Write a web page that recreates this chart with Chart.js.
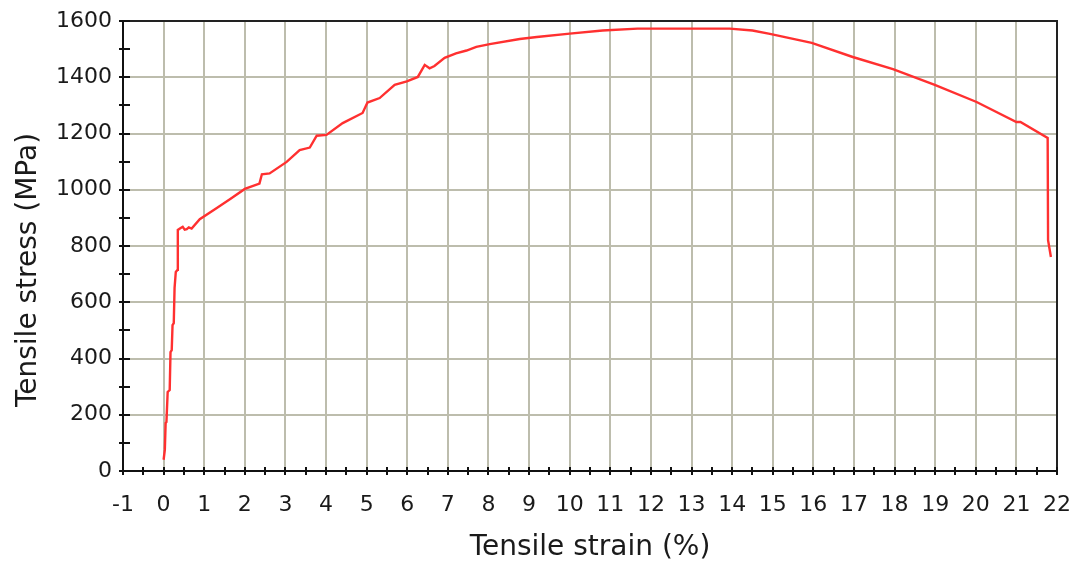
<!DOCTYPE html>
<html>
<head>
<meta charset="utf-8">
<script src="https://cdn.jsdelivr.net/npm/chart.js@4/dist/chart.umd.min.js"></script>
<style>
  html, body { margin: 0; padding: 0; background: #fff; }
  #wrap { width: 1076px; height: 566px; }
</style>
</head>
<body>
<div id="wrap"><canvas id="c" width="1076" height="566"></canvas></div>
<script>
// tensile test curve
const strain = [0, 0.03, 0.05, 0.07, 0.10, 0.15, 0.17, 0.20, 0.22, 0.25, 0.27, 0.30, 0.34, 0.35,
  0.42, 0.47, 0.52, 0.57, 0.62, 0.69, 0.89, 1.31, 1.65, 2.0, 2.36, 2.42, 2.61, 3.03, 3.35, 3.6, 3.77,
  4.01, 4.41, 4.9, 5.02, 5.32, 5.69, 5.99, 6.26, 6.43, 6.55, 6.67, 6.92, 7.2, 7.46, 7.7, 8.03, 8.77, 9.19,
  10.0, 10.81, 11.67, 13.94, 14.5, 14.93, 15.96, 16.97, 17.96, 18.99, 20.02, 21.0, 21.1, 21.77,
  21.78, 21.85];
const stress = [40, 75, 171, 174, 281, 288, 423, 430, 519, 526, 651, 708, 715, 857,
  864, 868, 858, 860, 866, 862, 895, 935, 968, 1003, 1022, 1055, 1058, 1099, 1141, 1150, 1192,
  1195, 1237, 1273, 1310, 1326, 1373, 1385, 1401, 1444, 1432, 1440, 1469, 1485, 1495, 1508, 1518, 1536, 1543,
  1555, 1566, 1573, 1573, 1566, 1554, 1522, 1472, 1429, 1373, 1312, 1241, 1241, 1184,
  821, 761];

const xMin = -1, xMax = 22, xStep = 1;
const yMin = 0, yMax = 1600, yStep = 200;
const xMinorStep = 0.5, yMinorStep = 100;

const FONT = 'DejaVu Sans, Verdana, sans-serif';
const GRID = '#bdbdad';
const TEXT = '#1a1a1a';

// ticks crossing the axes, plus top/right frame and the y title
const axisExtras = {
  id: 'axisExtras',
  afterDraw(chart) {
    const { ctx, chartArea: a, scales: { x, y } } = chart;
    ctx.save();
    ctx.strokeStyle = '#222';
    ctx.lineWidth = 2;
    ctx.beginPath();
    ctx.moveTo(a.left, a.top); ctx.lineTo(a.right, a.top); ctx.lineTo(a.right, a.bottom);
    ctx.stroke();

    ctx.strokeStyle = '#111';
    ctx.lineWidth = 2;
    ctx.beginPath();
    for (let v = xMin; v <= xMax + 1e-9; v += xMinorStep) {
      const px = Math.round(x.getPixelForValue(v));
      ctx.moveTo(px, a.bottom - 4); ctx.lineTo(px, a.bottom + 4);
    }
    for (let v = yMin; v <= yMax + 1e-9; v += yMinorStep) {
      const py = Math.round(y.getPixelForValue(v));
      ctx.moveTo(a.left - 4, py); ctx.lineTo(a.left + 7, py);
    }
    ctx.stroke();

    ctx.fillStyle = TEXT;
    ctx.font = '28px ' + FONT;
    ctx.textAlign = 'center';
    ctx.textBaseline = 'middle';
    ctx.translate(29, 270);
    ctx.rotate(-Math.PI / 2);
    ctx.fillText('Tensile stress (MPa)', 0, 0);
    ctx.restore();
  }
};

new Chart(document.getElementById('c'), {
  type: 'scatter',
  data: {
    datasets: [{
      data: strain.map((s, i) => ({ x: s, y: stress[i] })),
      showLine: true,
      borderColor: '#ff3030',
      borderWidth: 2.4,
      pointRadius: 0,
      tension: 0,
    }],
  },
  options: {
    responsive: false,
    animation: false,
    layout: { padding: { top: 21, right: 19, left: 0, bottom: 0 } },
    plugins: { legend: { display: false }, tooltip: { enabled: false } },
    scales: {
      x: {
        type: 'linear', min: xMin, max: xMax,
        afterFit(s) { s.height = 95; s.paddingLeft = 0; s.paddingRight = 0; },
        ticks: { stepSize: xStep, color: TEXT, font: { family: FONT, size: 22 }, padding: 21 },
        grid: {
          drawTicks: false, lineWidth: 2,
          color: c => (c.tick && (c.tick.value === xMin || c.tick.value === xMax)) ? 'rgba(0,0,0,0)' : GRID,
        },
        border: { display: true, color: '#111', width: 2 },
        title: { display: true, text: 'Tensile strain (%)', color: TEXT, font: { family: FONT, size: 28 }, padding: { top: 4, bottom: 1 } },
      },
      y: {
        min: yMin, max: yMax,
        afterFit(s) { s.width = 123; s.paddingTop = 0; s.paddingBottom = 0; },
        ticks: {
          stepSize: yStep, color: TEXT, font: { family: FONT, size: 22 }, padding: 11,
          callback: v => String(v),
        },
        grid: {
          drawTicks: false, lineWidth: 2,
          color: c => (c.tick && (c.tick.value === yMin || c.tick.value === yMax)) ? 'rgba(0,0,0,0)' : GRID,
        },
        border: { display: true, color: '#111', width: 2 },
      },
    },
  },
  plugins: [axisExtras],
});
</script>
</body>
</html>
